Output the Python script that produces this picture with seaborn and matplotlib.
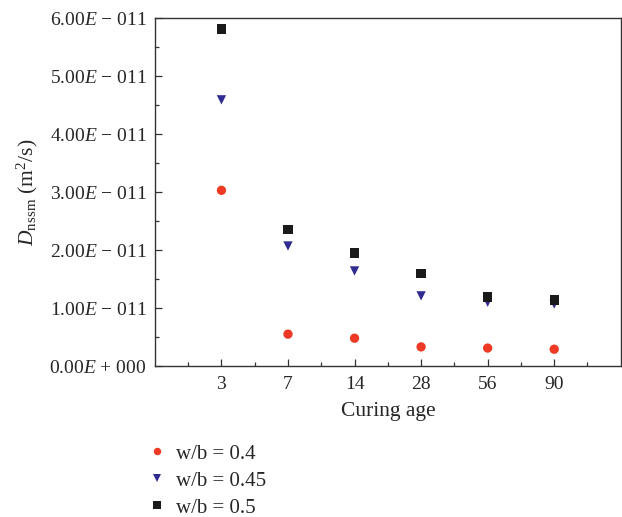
import matplotlib

matplotlib.use("Agg")
import matplotlib.pyplot as plt
import numpy as np
import pandas as pd
import seaborn as sns
from matplotlib.ticker import FixedLocator, MultipleLocator, FuncFormatter

# curing ages (days) shown as categories
ages = ["3", "7", "14", "28", "56", "90"]
d_wb040 = [3.03e-11, 0.55e-11, 0.48e-11, 0.33e-11, 0.31e-11, 0.29e-11]
d_wb045 = [4.59e-11, 2.07e-11, 1.64e-11, 1.21e-11, 1.10e-11, 1.07e-11]
d_wb050 = [5.81e-11, 2.36e-11, 1.95e-11, 1.60e-11, 1.19e-11, 1.14e-11]
series_labels = ["w/b = 0.4", "w/b = 0.45", "w/b = 0.5"]

sns.set_style("ticks")
plt.rcParams["font.family"] = ["Liberation Serif", "DejaVu Serif"]
plt.rcParams["mathtext.fontset"] = "custom"
plt.rcParams["mathtext.rm"] = "Liberation Serif"
plt.rcParams["mathtext.it"] = "Liberation Serif:italic"

rows = []
for label, vals in zip(series_labels, [d_wb040, d_wb045, d_wb050]):
    for i, v in enumerate(vals):
        rows.append({"pos": i, "D": v, "wb": label})
df = pd.DataFrame(rows)

fig = plt.figure(figsize=(6.22, 5.17), dpi=100)
ax = fig.add_axes([0.249, 0.292, 0.749, 0.673])

palette = {"w/b = 0.4": "#ee3a24", "w/b = 0.45": "#2f2b90", "w/b = 0.5": "#1a1a1a"}
markers = {"w/b = 0.4": "o", "w/b = 0.45": "v", "w/b = 0.5": "s"}
sns.scatterplot(data=df, x="pos", y="D", hue="wb", style="wb",
                palette=palette, markers=markers, s=45, linewidth=0,
                ax=ax, zorder=3)

ax.set_xlim(-1, 6)
ax.set_ylim(0, 6e-11)
ax.xaxis.set_major_locator(FixedLocator(range(len(ages))))
ax.set_xticklabels(ages)
ax.xaxis.set_minor_locator(FixedLocator(np.arange(-0.5, 6, 1.0)))
ax.yaxis.set_major_locator(MultipleLocator(1e-11))
ax.yaxis.set_minor_locator(MultipleLocator(0.5e-11))


def fmt(v, _):
    n = round(v / 1e-11)
    if n == 0:
        return "0.00$\\it{E}$ + 000"
    return "%d.00$\\it{E}$ \u2212 011" % n


ax.yaxis.set_major_formatter(FuncFormatter(fmt))
ax.tick_params(axis="both", which="both", direction="in", labelsize=14,
               color="#333333")
ax.tick_params(axis="both", which="major", length=5, width=0.9)
ax.tick_params(axis="both", which="minor", length=3, width=0.9)
ax.tick_params(axis="x", pad=7)
ax.tick_params(axis="y", pad=6)
for sp in ax.spines.values():
    sp.set_visible(True)
    sp.set_linewidth(1.0)
    sp.set_color("#333333")

ax.set_xlabel("Curing age", fontsize=15.5, labelpad=7)
ax.set_ylabel("$D_{\\mathrm{nssm}}$ (m$^2$/s)", fontsize=15.5, labelpad=7)

handles, labels = ax.get_legend_handles_labels()
ax.legend(handles, labels, loc="upper left", bbox_to_anchor=(-0.05, -0.2),
          frameon=False, fontsize=15, handletextpad=0.15, labelspacing=0.36,
          markerscale=0.8, borderaxespad=0, handlelength=1.6)

fig.savefig("out.png", dpi=100)
